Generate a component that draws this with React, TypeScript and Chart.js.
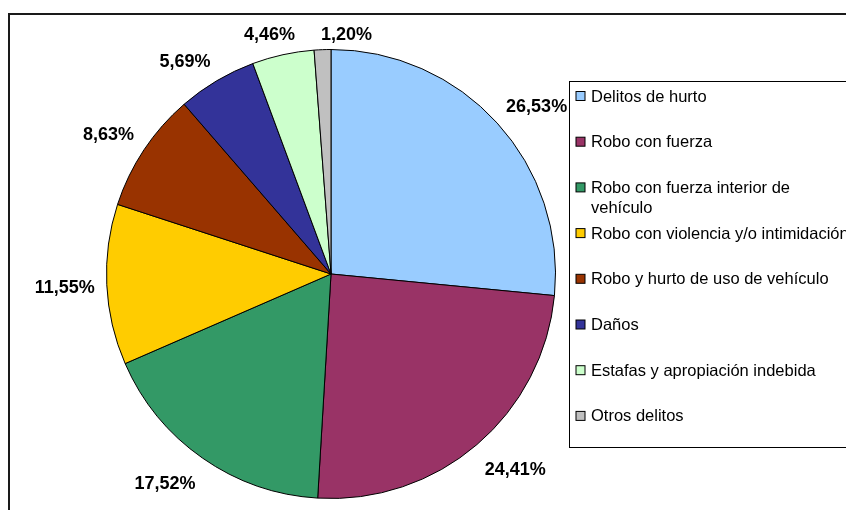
import React, { useEffect, useRef } from "react";
import { Chart, registerables } from "chart.js";

Chart.register(...registerables);

const categories = [
  "Delitos de hurto",
  "Robo con fuerza",
  "Robo con fuerza interior de vehículo",
  "Robo con violencia y/o intimidación",
  "Robo y hurto de uso de vehículo",
  "Daños",
  "Estafas y apropiación indebida",
  "Otros delitos",
];

const percentages = [26.53, 24.41, 17.52, 11.55, 8.63, 5.69, 4.46, 1.2];

const sliceColors = [
  "#99CCFF",
  "#993366",
  "#339966",
  "#FFCC00",
  "#993300",
  "#333399",
  "#CCFFCC",
  "#C0C0C0",
];

const fmt = (v: number) => v.toFixed(2).replace(".", ",") + "%";

const decorPlugin = {
  id: "decor",
  beforeDraw(chart: any) {
    const ctx = chart.ctx;
    ctx.save();
    ctx.fillStyle = "#ffffff";
    ctx.fillRect(0, 0, chart.width, chart.height);
    ctx.restore();
  },
  afterDraw(chart: any) {
    const ctx = chart.ctx;
    const meta = chart.getDatasetMeta(0);
    const ds = chart.data.datasets[0];
    ctx.save();

    // percentage labels
    ctx.font = "bold 18px 'Liberation Sans', Arial, sans-serif";
    ctx.fillStyle = "#000";
    ctx.textAlign = "center";
    ctx.textBaseline = "middle";
    const gap = 12;
    const boxes: any[] = [];
    meta.data.forEach((arc: any, i: number) => {
      const a = (arc.startAngle + arc.endAngle) / 2;
      const R = arc.outerRadius + gap;
      const c = Math.cos(a);
      const s = Math.sin(a);
      const text = fmt(ds.data[i]);
      const w = ctx.measureText(text).width;
      const hh = s > 0 ? 15 : 9;
      let cx = arc.x + R * c + (w / 2) * Math.sign(c) * Math.min(1, 2 * Math.abs(c));
      let cy = arc.y + R * s + hh * Math.sign(s) * Math.min(1, 2 * Math.abs(s));
      const prev = boxes[boxes.length - 1];
      if (prev) {
        const overlapX = cx - w / 2 < prev.x + prev.w / 2 + 4 && cx + w / 2 > prev.x - prev.w / 2 - 4;
        const overlapY = Math.abs(cy - prev.y) < 18;
        if (overlapX && overlapY) {
          cx = prev.x + prev.w / 2 + 26 + w / 2;
          cy = Math.max(cy, prev.y);
        }
      }
      boxes.push({ x: cx, y: cy, w });
      ctx.fillText(text, cx, cy + 1);
    });

    // legend
    const area = chart.chartArea;
    const lx = area.right + 13.5;
    const ly = 81.5;
    const lh = 366;
    ctx.fillStyle = "#fff";
    ctx.fillRect(lx, ly, chart.width - lx + 10, lh);
    ctx.strokeStyle = "#000";
    ctx.lineWidth = 1;
    ctx.strokeRect(lx, ly, chart.width - lx + 10, lh);

    ctx.font = "16.5px 'Liberation Sans', Arial, sans-serif";
    ctx.textAlign = "left";
    ctx.textBaseline = "middle";
    const step = 45.7;
    chart.data.labels.forEach((label: string, i: number) => {
      const cy = 96 + i * step;
      ctx.fillStyle = sliceColors[i];
      ctx.fillRect(lx + 6.5, cy - 4.5, 9, 9);
      ctx.strokeStyle = "#000";
      ctx.lineWidth = 1;
      ctx.strokeRect(lx + 6.5, cy - 4.5, 9, 9);
      const words = label.split(" ");
      const lines: string[] = [];
      let cur = "";
      const maxW = 261;
      words.forEach((wd) => {
        const t = cur ? cur + " " + wd : wd;
        if (ctx.measureText(t).width > maxW && cur) {
          lines.push(cur);
          cur = wd;
        } else {
          cur = t;
        }
      });
      lines.push(cur);
      ctx.fillStyle = "#000";
      lines.forEach((ln, j) => {
        ctx.fillText(ln, lx + 21.5, cy + 1 + j * 20);
      });
    });

    // outer frame
    ctx.strokeStyle = "#1a1a1a";
    ctx.lineWidth = 2;
    ctx.strokeRect(9, 14, chart.width + 20, chart.height + 20);
    ctx.restore();
  },
};

export default function App() {
  const ref = useRef<HTMLCanvasElement | null>(null);
  useEffect(() => {
    if (!ref.current) return;
    const chart = new Chart(ref.current, {
      type: "pie",
      data: {
        labels: categories,
        datasets: [
          {
            data: percentages,
            backgroundColor: sliceColors,
            borderColor: "#000",
            borderWidth: 1,
          },
        ],
      },
      options: {
        animation: false,
        responsive: false,
        layout: { padding: { left: 106, right: 290, top: 49, bottom: 11 } },
        plugins: {
          legend: { display: false },
          tooltip: { enabled: false },
        },
      },
      plugins: [decorPlugin],
    });
    return () => chart.destroy();
  }, []);
  return (
    <div style={{ position: "fixed", left: 0, top: 0, width: 846, height: 510, background: "#fff" }}>
      <canvas ref={ref} width={846} height={510} style={{ display: "block" }} />
    </div>
  );
}
